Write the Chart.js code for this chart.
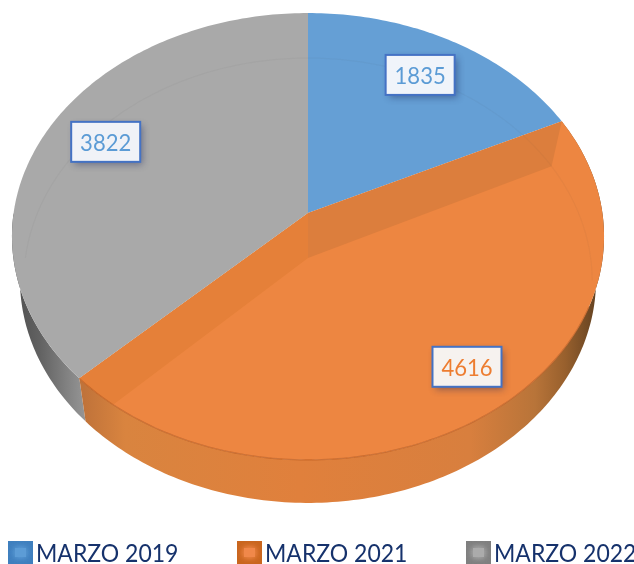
<!DOCTYPE html>
<html>
<head>
<meta charset="utf-8">
<style>html,body{margin:0;padding:0;background:#fff}canvas{display:block}</style>
<script src="https://cdn.jsdelivr.net/npm/chart.js@4"></script>
</head>
<body>
<canvas id="c" width="634" height="564"></canvas>
<script>
const categories = ['MARZO 2019', 'MARZO 2021', 'MARZO 2022'];
const values = [1835, 4616, 3822];
const sliceColors = ['#659FD5', '#ED8641', '#A9A9A9'];
const labelTextColors = ['#5B9BD5', '#ED7D31', '#5B9BD5'];
const labelFills = ['#F0F4FA', '#F6F2EF', '#F0F2F7'];
const swatchEdges = ['#3F7FBE', '#C9661F', '#7F7F7F'];
const swatchCores = ['#5C9CD6', '#F0884A', '#ABABAB'];

// Perspective of the disc: maps the unit circle onto the tilted pie face
const view = { cx: 308, cy: 213, k: 294.4, a: 198.6, c: -0.105 };
function project(u, v) {
  const d = 1 + view.c * v;
  return [view.cx + view.k * u / d, (view.cy + view.a * v) / d];
}
const inner = (u, v) => { const p = project(u, v); return [view.cx + (p[0] - view.cx) * 0.96, p[1] + 45]; };
const base  = (u, v) => { const p = project(u, v); return [view.cx + (p[0] - view.cx) * 0.973, p[1] + 43]; };

function arcPoints(fn, a0, a1) {
  const n = Math.max(2, Math.ceil(Math.abs(a1 - a0) * 60)), pts = [];
  for (let i = 0; i <= n; i++) {
    const t = a0 + (a1 - a0) * i / n;
    pts.push(fn(Math.cos(t), Math.sin(t)));
  }
  return pts;
}
function trace(ctx, pts, start) {
  pts.forEach((p, i) => (i === 0 && start) ? ctx.moveTo(p[0], p[1]) : ctx.lineTo(p[0], p[1]));
}
function wedge(ctx, fn, a0, a1) {
  ctx.beginPath();
  const c = fn(0, 0);
  ctx.moveTo(c[0], c[1]);
  trace(ctx, arcPoints(fn, a0, a1), false);
  ctx.closePath();
}
function wall(ctx, a0, a1) {
  ctx.beginPath();
  trace(ctx, arcPoints(project, a0, a1), true);
  trace(ctx, arcPoints(base, a1, a0), false);
  ctx.closePath();
}
function hGrad(ctx, stops) {
  const g = ctx.createLinearGradient(0, 0, 634, 0);
  stops.forEach(s => g.addColorStop(s[0] / 634, s[1]));
  return g;
}

const pie3d = {
  id: 'pie3d',
  beforeDatasetDraw(chart) {
    const ctx = chart.ctx;
    const arcs = chart.getDatasetMeta(0).data;
    const [blue, orange, gray] = arcs;
    ctx.save();

    // side walls
    ctx.fillStyle = hGrad(ctx, [[12, '#4E4E4E'], [40, '#626262'], [70, '#858585'], [90, '#9B9B9B']]);
    wall(ctx, gray.startAngle, Math.PI);
    ctx.fill();
    wall(ctx, orange.startAngle, orange.endAngle);
    ctx.fillStyle = hGrad(ctx, [[84, '#C0733A'], [125, '#D9843F'], [300, '#E0803C'], [470, '#D87F3E'], [535, '#B87439'], [565, '#98602D'], [600, '#5F3F20']]);
    ctx.fill();

    // top faces
    arcs.forEach((arc, i) => {
      wedge(ctx, project, arc.startAngle, arc.endAngle);
      ctx.fillStyle = sliceColors[i];
      ctx.fill();
    });

    // cut faces of the large slice, seen through the disc
    ctx.save();
    wedge(ctx, project, orange.startAngle, orange.endAngle);
    ctx.clip();
    const a = project(0, 0), a2 = inner(0, 0);
    const e1 = project(Math.cos(orange.startAngle), Math.sin(orange.startAngle));
    const e2 = inner(Math.cos(orange.startAngle), Math.sin(orange.startAngle));
    const l1 = project(Math.cos(orange.endAngle), Math.sin(orange.endAngle));
    const l2 = inner(Math.cos(orange.endAngle), Math.sin(orange.endAngle));
    ctx.beginPath();
    ctx.moveTo(a[0], a[1]); ctx.lineTo(e1[0], e1[1]); ctx.lineTo(e2[0], e2[1]); ctx.lineTo(a2[0], a2[1]);
    ctx.closePath();
    ctx.fillStyle = '#DC7E3D';
    ctx.fill();
    ctx.beginPath();
    ctx.moveTo(a[0], a[1]); ctx.lineTo(l1[0], l1[1]); ctx.lineTo(l2[0], l2[1]); ctx.lineTo(a2[0], a2[1]);
    ctx.closePath();
    ctx.fillStyle = '#E58039';
    ctx.fill();
    ctx.restore();

    // faint inner rim over the back of the disc
    ctx.save();
    wedge(ctx, project, 0, Math.PI * 2);
    ctx.clip();
    ctx.beginPath();
    trace(ctx, arcPoints(inner, Math.PI, Math.PI * 2 + 0.1), true);
    ctx.strokeStyle = 'rgba(60,60,60,0.045)';
    ctx.lineWidth = 1.2;
    ctx.stroke();
    ctx.restore();

    // rim of the front edge
    ctx.beginPath();
    trace(ctx, arcPoints(project, 0.42, orange.endAngle), true);
    ctx.strokeStyle = 'rgba(190,95,35,0.7)';
    ctx.lineWidth = 1.3;
    ctx.stroke();

    ctx.restore();
    return false;
  },
  afterDatasetsDraw(chart) {
    const ctx = chart.ctx;
    const arcs = chart.getDatasetMeta(0).data;
    const nudges = [[-3.5, 0], [16.5, 0], [5, -5]];
    ctx.save();
    arcs.forEach((arc, i) => {
      const mid = (arc.startAngle + arc.endAngle) / 2;
      const p = project(0.79 * Math.cos(mid), 0.79 * Math.sin(mid));
      const x = p[0] + nudges[i][0], y = p[1] + nudges[i][1];
      const w = 69, h = 40;
      ctx.save();
      ctx.shadowColor = 'rgba(30,40,90,0.45)';
      ctx.shadowBlur = 7;
      ctx.shadowOffsetX = 3;
      ctx.shadowOffsetY = 3;
      ctx.fillStyle = labelFills[i];
      ctx.fillRect(x - w / 2, y - h / 2, w, h);
      ctx.restore();
      ctx.strokeStyle = '#4472C4';
      ctx.lineWidth = 2;
      ctx.strokeRect(x - w / 2, y - h / 2, w, h);
      ctx.save();
      ctx.translate(x, y + 1);
      ctx.scale(0.92, 1);
      ctx.font = '24px Lato';
      ctx.textAlign = 'center';
      ctx.textBaseline = 'middle';
      ctx.fillStyle = labelTextColors[i];
      ctx.fillText(String(values[i]), 0, 0);
      ctx.restore();
    });

    // legend
    const itemLeft = [8, 237, 466];
    categories.forEach((name, i) => {
      const x = itemLeft[i], y = 541, w = 25, h = 23;
      ctx.fillStyle = swatchEdges[i];
      ctx.fillRect(x, y, w, h);
      ctx.save();
      ctx.beginPath(); ctx.rect(x, y, w, h); ctx.clip();
      ctx.shadowColor = swatchCores[i];
      ctx.shadowBlur = 6;
      ctx.fillStyle = swatchCores[i];
      ctx.fillRect(x + 7, y + 7, w - 14, h - 14);
      ctx.fillRect(x + 7, y + 7, w - 14, h - 14);
      ctx.restore();
      ctx.save();
      ctx.translate(x + 28, 562);
      ctx.scale(0.92, 1);
      ctx.font = '25px Lato';
      ctx.textAlign = 'left';
      ctx.textBaseline = 'alphabetic';
      ctx.fillStyle = '#16326C';
      ctx.fillText(name, 0, 0);
      ctx.restore();
    });
    ctx.restore();
  }
};

new Chart(document.getElementById('c'), {
  type: 'pie',
  data: { labels: categories, datasets: [{ data: values, backgroundColor: sliceColors, borderWidth: 0 }] },
  options: {
    responsive: false,
    animation: false,
    devicePixelRatio: 1,
    plugins: { legend: { display: false }, tooltip: { enabled: false } }
  },
  plugins: [pie3d]
});
</script>
</body>
</html>
